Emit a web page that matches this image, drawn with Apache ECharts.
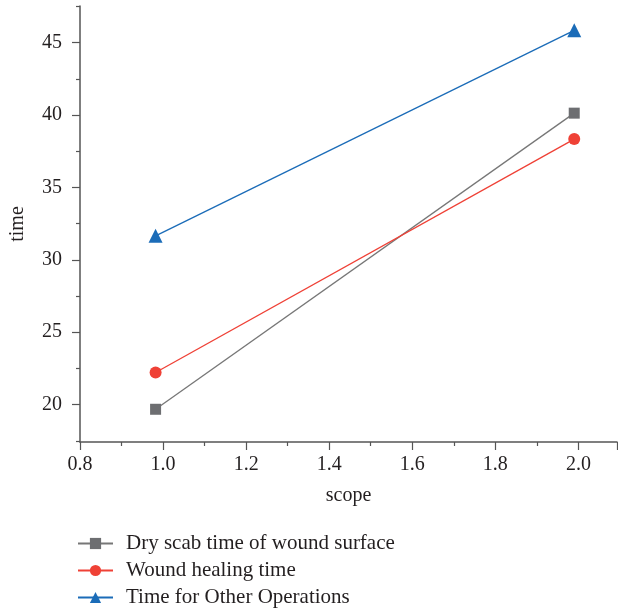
<!DOCTYPE html>
<html>
<head>
<meta charset="utf-8">
<script src="https://cdn.jsdelivr.net/npm/echarts@6/dist/echarts.min.js"></script>
<style>html,body{margin:0;padding:0;background:#fff;}#c{width:618px;height:610px;}</style>
</head>
<body>
<div id="c"></div>
<script>
const xValues = [0.982, 1.99];
const dryScab = [19.68, 40.13];
const woundHealing = [22.22, 38.34];
const otherOps = [31.66, 45.85];
const seriesNames = ['Dry scab time of wound surface', 'Wound healing time', 'Time for Other Operations'];
const yMajorTicks = [20, 25, 30, 35, 40, 45];
const yMinorTicks = [17.5, 22.5, 27.5, 32.5, 37.5, 42.5, 47.5];

const FONT = '"Liberation Serif", "DejaVu Serif", serif';
const TXT = '#231f20';
const AX = '#555555';

function pts(ys) { return xValues.map((x, i) => [x, ys[i]]); }

const chart = echarts.init(document.getElementById('c'));
chart.setOption({
  animation: false,
  textStyle: { fontFamily: FONT },
  grid: { left: 77, right: 1, top: 6, bottom: 168, containLabel: false },
  xAxis: {
    type: 'value', min: 0.8, max: 2.093, interval: 0.2,
    name: 'scope', nameLocation: 'middle', nameGap: 44,
    nameTextStyle: { fontFamily: FONT, fontSize: 20, color: TXT },
    axisLine: { show: true, lineStyle: { color: AX, width: 1.5 } },
    axisTick: { show: true, length: 8, lineStyle: { color: AX, width: 1.2 } },
    minorTick: { show: true, splitNumber: 2, length: 4, lineStyle: { color: AX, width: 1.2 } },
    axisLabel: { fontFamily: FONT, fontSize: 20, color: TXT, margin: 13, formatter: v => v.toFixed(1), showMaxLabel: false },
    splitLine: { show: false }, minorSplitLine: { show: false }
  },
  yAxis: [{
    type: 'value', min: 17.42, max: 47.53,
    name: 'time', nameLocation: 'middle', nameGap: 52,
    nameTextStyle: { fontFamily: FONT, fontSize: 20, color: TXT },
    axisLine: { show: true, lineStyle: { color: AX, width: 1.5 } },
    axisTick: { show: true, length: 8, customValues: yMajorTicks, lineStyle: { color: AX, width: 1.2 } },
    axisLabel: { fontFamily: FONT, fontSize: 20, color: TXT, margin: 18, customValues: yMajorTicks },
    splitLine: { show: false }
  }, {
    type: 'value', min: 17.42, max: 47.53, position: 'left',
    axisLine: { show: false },
    axisTick: { show: true, length: 4, customValues: yMinorTicks, lineStyle: { color: AX, width: 1.2 } },
    axisLabel: { show: false },
    splitLine: { show: false }
  }],
  legend: {
    orient: 'vertical', left: 72, top: 528, height: 90, width: 520, itemWidth: 35, itemHeight: 14, itemGap: 6,
    textStyle: { fontFamily: FONT, fontSize: 21, color: TXT, padding: [0, 0, 0, 8] },
    data: seriesNames
  },
  series: [
    { name: seriesNames[0], type: 'line', data: pts(dryScab), symbol: 'rect', symbolSize: 11,
      itemStyle: { color: '#6d6e71' }, lineStyle: { color: '#777777', width: 1.3 } },
    { name: seriesNames[1], type: 'line', data: pts(woundHealing), symbol: 'circle', symbolSize: 12,
      itemStyle: { color: '#ef4136' }, lineStyle: { color: '#ef4136', width: 1.3 } },
    { name: seriesNames[2], type: 'line', data: pts(otherOps), symbol: 'triangle', symbolSize: 14,
      itemStyle: { color: '#1b6cb8' }, lineStyle: { color: '#1b6cb8', width: 1.3 } }
  ]
});
</script>
</body>
</html>
